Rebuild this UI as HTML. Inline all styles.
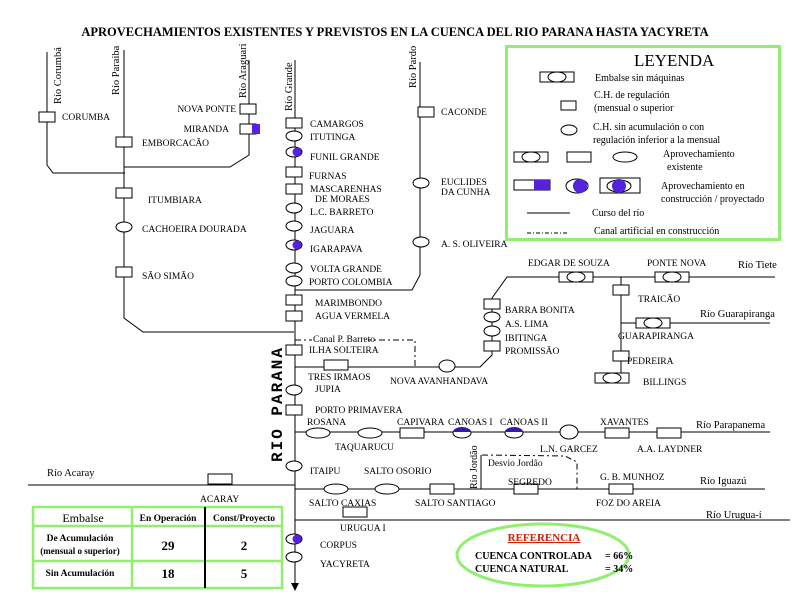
<!DOCTYPE html>
<html><head><meta charset="utf-8"><style>
html,body{margin:0;padding:0;background:#fff;width:800px;height:600px;overflow:hidden}
svg text{font-family:"Liberation Serif",serif;font-size:9.5px;fill:#000}
</style></head><body>
<svg width="800" height="600" viewBox="0 0 800 600" xmlns="http://www.w3.org/2000/svg">
<defs>
<symbol id="bx" overflow="visible"><rect x="-8" y="-5" width="16" height="10" fill="#fff" stroke="#000" stroke-width="1"/></symbol>
<symbol id="el" overflow="visible"><ellipse cx="0" cy="0" rx="8" ry="5" fill="#fff" stroke="#000" stroke-width="1"/></symbol>
<symbol id="eld" overflow="visible"><ellipse cx="0" cy="0" rx="8" ry="5" fill="#fff" stroke="#000" stroke-width="1"/><circle cx="3" cy="0" r="4.5" fill="#5522dd"/></symbol>
<symbol id="emb" overflow="visible"><rect x="-17" y="-5" width="34" height="10" fill="#fff" stroke="#000"/><ellipse cx="0" cy="0" rx="9" ry="5" fill="#fff" stroke="#000"/></symbol>
<symbol id="wb" overflow="visible"><rect x="-12" y="-5" width="24" height="10" fill="#fff" stroke="#000"/></symbol>
<symbol id="we" overflow="visible"><ellipse cx="0" cy="0" rx="12" ry="5" fill="#fff" stroke="#000"/></symbol>
</defs>
<text x="395" y="36" text-anchor="middle" style="font-size:12.5px;font-weight:bold">APROVECHAMIENTOS EXISTENTES Y PREVISTOS  EN LA CUENCA DEL RIO PARANA HASTA YACYRETA</text>

<g stroke="#000" stroke-width="1" fill="none">
<polyline points="47,52 47,165 53,173 125,173"/>
<polyline points="124,50 124,318 143,332 294,332"/>
<polyline points="249,60 249,155 230,167 124,167"/>
<line x1="295" y1="60" x2="295" y2="584"/>
<polyline points="420,62 420,275 412,290 295,290"/>
<polyline points="295,367 480,367 492,355 492,298 507,277 775,277"/>
<line x1="621" y1="277" x2="621" y2="378"/>
<line x1="621" y1="323" x2="770" y2="323"/>
<line x1="295" y1="432" x2="770" y2="432"/>
<line x1="295" y1="489" x2="765" y2="489"/>
<line x1="481" y1="489" x2="481" y2="455"/>
<line x1="295" y1="520" x2="790" y2="520"/>
<line x1="28" y1="485" x2="295" y2="485"/>
<polyline points="295,340 415,340 415,366" stroke-dasharray="6,3,2,3"/>
<polyline points="482,455 565,456 577,462 577,489" stroke-dasharray="6,3,2,3"/>
</g>
<polygon points="291,583 299,583 295,591" fill="#000"/>

<text transform="translate(61,104) rotate(-90)" style="font-size:10.5px">Río Corumbá</text>
<text transform="translate(119,95) rotate(-90)" style="font-size:10.5px">Río Paraiba</text>
<text transform="translate(246,98) rotate(-90)" style="font-size:10.5px">Río Araguari</text>
<text transform="translate(292,111) rotate(-90)" style="font-size:10.5px">Río Grande</text>
<text transform="translate(416,88) rotate(-90)" style="font-size:10.5px">Río Pardo</text>
<text transform="translate(477,489) rotate(-90)" style="font-size:10px">Río Jordão</text>
<text x="738" y="268" style="font-size:10.5px">Río Tiete</text>
<text x="700" y="317" style="font-size:10.5px">Río Guarapiranga</text>
<text x="696" y="428" style="font-size:10.5px">Río Parapanema</text>
<text x="700" y="484" style="font-size:10.5px">Río Iguazú</text>
<text x="706" y="518" style="font-size:10.5px">Río Urugua-í</text>
<text x="47" y="476" style="font-size:10.5px">Río Acaray</text>
<text transform="translate(282,462) rotate(-90)" style="font-family:'Liberation Mono',monospace;font-size:16px;font-weight:bold;letter-spacing:2px">RIO  PARANA</text>

<use href="#bx" x="47" y="117"/><text x="62" y="120">CORUMBA</text>
<use href="#bx" x="248" y="109"/><text x="236" y="112" text-anchor="end">NOVA PONTE</text>
<use href="#bx" x="248" y="129"/><rect x="252" y="124" width="8" height="10" fill="#5522dd"/><text x="229" y="132" text-anchor="end">MIRANDA</text>
<use href="#bx" x="124" y="142"/><text x="142" y="146">EMBORCACÃO</text>
<use href="#bx" x="124" y="193"/><text x="148" y="203">ITUMBIARA</text>
<use href="#el" x="124" y="227"/><text x="142" y="232">CACHOEIRA DOURADA</text>
<use href="#bx" x="124" y="272"/><text x="142" y="279">SÃO SIMÃO</text>

<use href="#bx" x="294" y="123"/><text x="310" y="127">CAMARGOS</text>
<use href="#el" x="294" y="136"/><text x="310" y="140">ITUTINGA</text>
<use href="#eld" x="294" y="152"/><text x="310" y="160">FUNIL GRANDE</text>
<use href="#bx" x="294" y="172"/><text x="309" y="179">FURNAS</text>
<use href="#bx" x="294" y="189"/><text x="310" y="192">MASCARENHAS</text><text x="315" y="202">DE MORAES</text>
<use href="#el" x="294" y="208"/><text x="310" y="215">L.C. BARRETO</text>
<use href="#el" x="294" y="226"/><text x="310" y="233">JAGUARA</text>
<use href="#eld" x="294" y="245"/><text x="310" y="252">IGARAPAVA</text>
<use href="#el" x="294" y="268"/><text x="310" y="272">VOLTA GRANDE</text>
<use href="#el" x="294" y="281"/><text x="309" y="285">PORTO COLOMBIA</text>
<use href="#bx" x="294" y="300"/><text x="315" y="306">MARIMBONDO</text>
<use href="#bx" x="294" y="316"/><text x="315" y="319">AGUA VERMELA</text>
<rect x="312" y="334" width="56" height="9" fill="#fff"/><text x="313" y="342">Canal P. Barreto</text>
<use href="#bx" x="294" y="350"/><text x="309" y="353">ILHA SOLTEIRA</text>
<use href="#wb" x="336" y="365"/><text x="308" y="380">TRES IRMAOS</text>
<ellipse cx="447" cy="366" rx="8" ry="6" fill="#fff" stroke="#000"/><text x="390" y="384">NOVA AVANHANDAVA</text>
<use href="#el" x="294" y="390"/><text x="315" y="392">JUPIA</text>
<use href="#bx" x="294" y="410"/><text x="315" y="413">PORTO PRIMAVERA</text>

<use href="#bx" x="426" y="112"/><text x="441" y="115">CACONDE</text>
<use href="#el" x="421" y="183"/><text x="441" y="185">EUCLIDES</text><text x="441" y="195">DA CUNHA</text>
<use href="#el" x="421" y="242"/><text x="441" y="247">A. S. OLIVEIRA</text>

<use href="#bx" x="492" y="304"/><text x="505" y="313">BARRA BONITA</text>
<use href="#el" x="492" y="317"/><text x="505" y="327">A.S. LIMA</text>
<use href="#el" x="492" y="331"/><text x="505" y="341">IBITINGA</text>
<use href="#bx" x="492" y="346"/><text x="505" y="354">PROMISSÃO</text>
<use href="#emb" x="576" y="277"/><text x="528" y="266">EDGAR DE SOUZA</text>
<use href="#emb" x="672" y="277"/><text x="647" y="266">PONTE NOVA</text>
<use href="#bx" x="621" y="290"/><text x="638" y="302">TRAICÃO</text>
<use href="#emb" x="653" y="323"/><text x="618" y="339">GUARAPIRANGA</text>
<use href="#bx" x="621" y="356"/><text x="627" y="364">PEDREIRA</text>
<use href="#emb" x="612" y="378"/><text x="643" y="385">BILLINGS</text>

<use href="#we" x="318" y="433"/><text x="307" y="425">ROSANA</text>
<use href="#we" x="370" y="433"/><text x="335" y="450">TAQUARUCU</text>
<use href="#wb" x="412" y="433"/><text x="397" y="425">CAPIVARA</text>
<ellipse cx="462" cy="433" rx="9" ry="5" fill="#fff" stroke="#000"/><path d="M453,432 A9,5 0 0 1 471,432 Z" fill="#3a16b0"/><text x="448" y="425">CANOAS I</text>
<ellipse cx="514" cy="433" rx="9" ry="5" fill="#fff" stroke="#000"/><path d="M505,432 A9,5 0 0 1 523,432 Z" fill="#3a16b0"/><text x="500" y="425">CANOAS II</text>
<ellipse cx="569" cy="432" rx="9" ry="7" fill="#fff" stroke="#000"/><text x="540" y="452">L.N. GARCEZ</text>
<use href="#wb" x="617" y="433"/><text x="600" y="425">XAVANTES</text>
<use href="#wb" x="669" y="433"/><text x="637" y="452">A.A. LAYDNER</text>

<use href="#el" x="294" y="466"/><text x="310" y="474">ITAIPU</text>
<text x="364" y="474">SALTO OSORIO</text>
<use href="#we" x="336" y="489"/><text x="309" y="506">SALTO CAXIAS</text>
<use href="#we" x="387" y="489"/><text x="415" y="506">SALTO SANTIAGO</text>
<use href="#wb" x="442" y="489"/>
<text x="488" y="466">Desvio Jordão</text>
<use href="#wb" x="526" y="489"/><text x="508" y="485">SEGREDO</text>
<use href="#wb" x="621" y="489"/><text x="600" y="480">G. B. MUNHOZ</text>
<text x="596" y="506">FOZ DO AREIA</text>
<use href="#wb" x="220" y="479"/><text x="200" y="502">ACARAY</text>
<use href="#wb" x="355" y="512"/><text x="340" y="531">URUGUA I</text>
<use href="#eld" x="294" y="539"/><text x="320" y="548">CORPUS</text>
<use href="#el" x="294" y="557"/><text x="320" y="567">YACYRETA</text>

<rect x="506.5" y="46.5" width="273" height="193" fill="none" stroke="#90ee70" stroke-width="3"/>
<text x="634" y="66" style="font-size:17px">LEYENDA</text>
<use href="#emb" x="557" y="77"/><text x="595" y="81" style="font-size:10px">Embalse sin máquinas</text>
<rect x="561" y="101" width="15" height="9" fill="#fff" stroke="#000"/>
<text x="594" y="98" style="font-size:10px">C.H. de regulación</text><text x="594" y="111" style="font-size:10px">(mensual o superior</text>
<use href="#el" x="569" y="130"/><text x="593" y="130" style="font-size:10px">C.H. sin acumulación o con</text><text x="593" y="143" style="font-size:10px">regulación inferior a la mensual</text>
<use href="#emb" x="531" y="157"/><use href="#wb" x="579" y="157"/><use href="#we" x="625" y="157"/>
<text x="663" y="157" style="font-size:10px">Aprovechamiento</text><text x="667" y="170" style="font-size:10px">existente</text>
<rect x="514" y="180" width="36" height="10" fill="#fff" stroke="#000"/><rect x="534" y="180" width="16" height="10" fill="#5522dd"/>
<ellipse cx="577" cy="186" rx="11" ry="7" fill="#fff" stroke="#000"/><circle cx="580" cy="186" r="7" fill="#5522dd"/>
<rect x="600" y="178" width="40" height="15" fill="#fff" stroke="#000"/><ellipse cx="619" cy="186" rx="12" ry="6" fill="#fff" stroke="#000"/><circle cx="619" cy="186" r="7" fill="#5522dd"/>
<text x="661" y="189" style="font-size:10px">Aprovechamiento en</text><text x="661" y="202" style="font-size:10px">construcción / proyectado</text>
<line x1="527" y1="213" x2="570" y2="213" stroke="#000"/><text x="592" y="216" style="font-size:10px">Curso del río</text>
<line x1="527" y1="233" x2="567" y2="233" stroke="#000" stroke-dasharray="4,2,1,2"/><text x="594" y="234" style="font-size:10px">Canal artificial en construcción</text>

<g stroke="#90ee70" stroke-width="2.5" fill="none">
<rect x="33" y="507" width="249" height="81"/>
<line x1="33" y1="526" x2="282" y2="526"/><line x1="33" y1="561" x2="282" y2="561"/>
<line x1="132" y1="507" x2="132" y2="588"/>
</g>
<line x1="205" y1="507" x2="205" y2="588" stroke="#000" stroke-width="2"/>
<text x="83" y="522" text-anchor="middle" style="font-size:12px">Embalse</text>
<text x="168" y="521" text-anchor="middle" style="font-size:9.5px;font-weight:bold">En Operación</text>
<text x="244" y="521" text-anchor="middle" style="font-size:9.5px;font-weight:bold">Const/Proyecto</text>
<text x="80" y="541" text-anchor="middle" style="font-weight:bold">De Acumulación</text>
<text x="80" y="554" text-anchor="middle" style="font-size:9px;font-weight:bold">(mensual o superior)</text>
<text x="80" y="576" text-anchor="middle" style="font-weight:bold">Sin Acumulación</text>
<text x="168" y="550" text-anchor="middle" style="font-size:13px;font-weight:bold">29</text>
<text x="244" y="550" text-anchor="middle" style="font-size:13px;font-weight:bold">2</text>
<text x="168" y="578" text-anchor="middle" style="font-size:13px;font-weight:bold">18</text>
<text x="244" y="578" text-anchor="middle" style="font-size:13px;font-weight:bold">5</text>

<ellipse cx="543" cy="555" rx="86" ry="31" fill="none" stroke="#90ee70" stroke-width="3"/>
<text x="544" y="541" text-anchor="middle" style="font-size:11px;font-weight:bold;fill:#cc2200;text-decoration:underline">REFERENCIA</text>
<text x="475" y="559" style="font-size:10px;font-weight:bold">CUENCA  CONTROLADA</text><text x="605" y="559" style="font-size:10px;font-weight:bold">= 66%</text>
<text x="475" y="572" style="font-size:10px;font-weight:bold">CUENCA  NATURAL</text><text x="605" y="572" style="font-size:10px;font-weight:bold">= 34%</text>
</svg>
</body></html>
